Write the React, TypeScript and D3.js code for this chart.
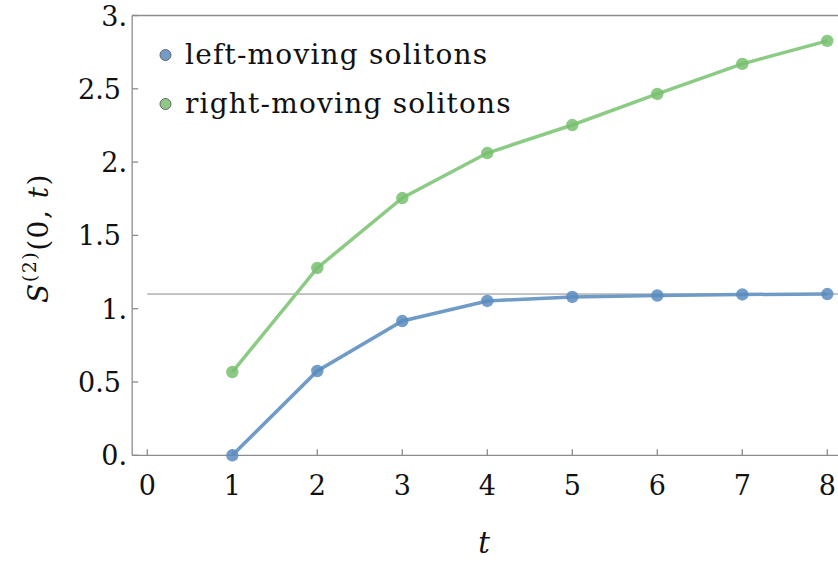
import React from "react";
import * as d3 from "d3";

// values
const times = [1, 2, 3, 4, 5, 6, 7, 8];
const leftMoving = [0.0, 0.575, 0.916, 1.053, 1.08, 1.09, 1.097, 1.1];
const rightMoving = [0.568, 1.278, 1.755, 2.062, 2.253, 2.465, 2.67, 2.827];
const xTicks = [0, 1, 2, 3, 4, 5, 6, 7, 8];
const yTicks = [0, 0.5, 1, 1.5, 2, 2.5, 3];
const yTickLabels = ["0.", "0.5", "1.", "1.5", "2.", "2.5", "3."];
const saturation = 1.1;

const series = [
  { name: "left-moving solitons", values: leftMoving, line: "#6f9bc6", dot: "#5b8cbe" },
  { name: "right-moving solitons", values: rightMoving, line: "#8ccb84", dot: "#78bf6f" },
];

const W = 838;
const H = 562;
const FONT = "DejaVu Serif, Liberation Serif, serif";

const App = () => {
  const x = d3.scaleLinear().domain([0, 8]).range([147.3, 827.3]);
  const y = d3.scaleLinear().domain([0, 3]).range([455.3, 15.5]);
  const frameLeft = x(-0.178);

  const line = d3
    .line<number>()
    .x((_, i) => x(times[i]))
    .y((d) => y(d));

  return (
    <svg width={W} height={H} style={{ position: "absolute", left: 0, top: 0, fontFamily: FONT }}>
      {/* horizontal reference */}
      <line x1={x(0)} x2={W} y1={y(saturation)} y2={y(saturation)} stroke="#8a8a8a" strokeWidth={1} />

      {/* frame */}
      <g stroke="#8c8c8c" strokeWidth={1.3} fill="none">
        <line x1={frameLeft} x2={frameLeft} y1={y(3)} y2={y(0)} />
        <line x1={frameLeft} x2={W} y1={y(0)} y2={y(0)} />
        <line x1={frameLeft} x2={W} y1={y(3)} y2={y(3)} />
        {xTicks.map((t) => (
          <line key={"xt" + t} x1={x(t)} x2={x(t)} y1={y(0)} y2={y(0) - 6} />
        ))}
        {yTicks.map((t) => (
          <line key={"yt" + t} x1={frameLeft} x2={frameLeft + 6} y1={y(t)} y2={y(t)} />
        ))}
      </g>

      {/* tick labels */}
      <g fontSize={27} fill="#111">
        {xTicks.map((t) => (
          <text key={"xl" + t} x={x(t)} y={495} textAnchor="middle">
            {t}
          </text>
        ))}
        {yTicks.map((t, i) => (
          <text key={"yl" + t} x={yTickLabels[i].endsWith(".") ? 127 : 121} y={y(t) + 10} textAnchor="end">
            {yTickLabels[i]}
          </text>
        ))}
      </g>

      {/* series */}
      {series.map((s) => (
        <g key={s.name}>
          <path d={line(s.values) || ""} fill="none" stroke={s.line} strokeWidth={3.5} />
          {s.values.map((v, i) => (
            <circle key={i} cx={x(times[i])} cy={y(v)} r={6.2} fill={s.dot} opacity={0.85} />
          ))}
        </g>
      ))}

      {/* legend */}
      {series.map((s, i) => (
        <g key={"lg" + s.name}>
          <circle cx={165.5} cy={55 + i * 49} r={5.5} fill={s.dot} fillOpacity={0.85} stroke="#666" strokeWidth={1} />
          <text x={185} y={64 + i * 49} fontSize={28} letterSpacing={1.2} fill="#111">
            {s.name}
          </text>
        </g>
      ))}

      {/* axis labels */}
      <text x={484} y={553} fontSize={29} fontStyle="italic" textAnchor="middle" fill="#111">
        t
      </text>
      <text transform="translate(48,238) rotate(-90)" fontSize={28} letterSpacing={1.5} textAnchor="middle" fill="#111">
        <tspan fontStyle="italic">S</tspan>
        <tspan fontSize={19} dy={-12}>(2)</tspan>
        <tspan dy={12}>(0, </tspan>
        <tspan fontStyle="italic">t</tspan>
        <tspan>)</tspan>
      </text>
    </svg>
  );
};

export default App;
